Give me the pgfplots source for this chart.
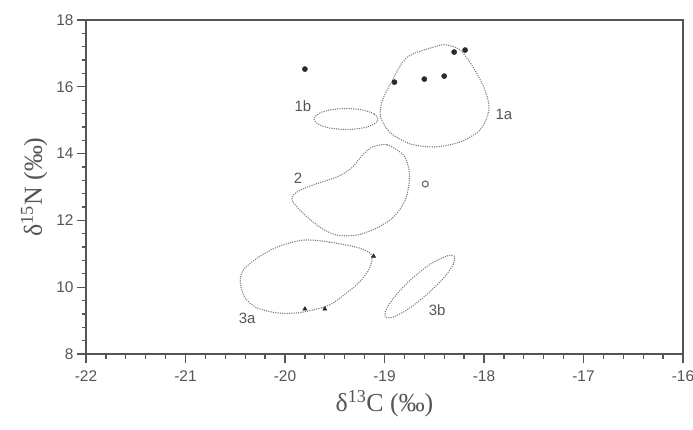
\documentclass[border=0pt]{standalone}
\usepackage{fontspec}
\setmainfont{Liberation Serif}
\newfontfamily\sans{Liberation Sans}
\usepackage{pgfplots}
\pgfplotsset{compat=1.18}
\definecolor{axgray}{HTML}{555555}
\definecolor{txtgray}{HTML}{555555}
\definecolor{dotgray}{HTML}{7A7A7A}
\definecolor{ptcol}{HTML}{2A2A2A}
\tikzset{lab/.style={font=\sans\fontsize{15}{15}\selectfont, text=txtgray}}
\begin{document}
\begin{tikzpicture}
\begin{axis}[
  scale only axis,
  width=597bp, height=334bp,
  xmin=-22, xmax=-16, ymin=8, ymax=18,
  xtick={-22,-21,...,-16}, ytick={8,10,...,18},
  minor tick num=4,
  tick align=outside,
  xtick pos=bottom, ytick pos=left,
  major tick length=9bp, minor tick length=4.5bp,
  axis line style={axgray, line width=1.8bp},
  every tick/.style={axgray, line width=1.3bp},
  /pgf/number format/assume math mode=true,
  ticklabel style={font=\sans\fontsize{15.5}{15.5}\selectfont, text=txtgray},
  xticklabel style={yshift=-4bp},
  xlabel={\fontsize{26}{26}\selectfont δ\textsuperscript{13}C (‰)},
  ylabel={\fontsize{26}{26}\selectfont δ\textsuperscript{15}N (‰)},
  xlabel style={text=txtgray, yshift=-2bp},
  ylabel style={text=txtgray, yshift=2bp},
  clip=false,
]
\coordinate (sw) at (rel axis cs:0,0);
\coordinate (ne) at (rel axis cs:1,1);
% contours
\pgfplotsset{cont/.style={smooth cycle, dotgray, line width=1.5bp, dash pattern=on 0bp off 2.3bp, line cap=round, mark=none}}
% 1a
\addplot[cont] coordinates {
(-18.47,17.22) (-18.77,16.89) (-18.92,16.20) (-19.02,15.60) (-19.04,15.10)
(-18.94,14.62) (-18.74,14.29) (-18.49,14.20) (-18.24,14.35) (-18.04,14.71)
(-17.95,15.31) (-17.99,15.90) (-18.11,16.59) (-18.24,17.10) (-18.37,17.25)};
% 1b
\addplot[cont] coordinates {
(-19.065,15.036) (-19.108,15.193) (-19.226,15.308) (-19.387,15.350) (-19.548,15.308)
(-19.665,15.193) (-19.709,15.036) (-19.665,14.879) (-19.548,14.763) (-19.387,14.722)
(-19.226,14.763) (-19.108,14.879)};
% 2
\addplot[cont] coordinates {
(-19.12,14.20) (-18.97,14.26) (-18.81,13.96) (-18.76,13.60) (-18.75,13.21)
(-18.79,12.61) (-18.91,12.10) (-19.08,11.77) (-19.28,11.56) (-19.48,11.56)
(-19.65,11.80) (-19.82,12.22) (-19.93,12.61) (-19.88,12.85) (-19.72,13.06)
(-19.48,13.30) (-19.33,13.57) (-19.22,13.96)};
% 3a
\addplot[cont] coordinates {
(-19.82,11.41) (-19.55,11.35) (-19.25,11.17) (-19.13,10.96) (-19.15,10.57)
(-19.25,10.16) (-19.38,9.83) (-19.55,9.47) (-19.72,9.32) (-19.88,9.23)
(-20.08,9.23) (-20.28,9.38) (-20.40,9.68) (-20.45,10.13) (-20.42,10.51)
(-20.28,10.87) (-20.08,11.20)};
% 3b
\addplot[cont] coordinates {
(-18.30,10.93) (-18.31,10.68) (-18.41,10.26) (-18.58,9.77) (-18.76,9.35)
(-18.91,9.11) (-18.99,9.11) (-18.98,9.36) (-18.88,9.78) (-18.72,10.27)
(-18.54,10.69) (-18.38,10.93)};
% points
\addplot[only marks, mark=*, mark size=2.6bp, ptcol] coordinates {
(-19.80,16.53) (-18.30,17.04) (-18.19,17.10) (-18.90,16.14) (-18.60,16.23) (-18.40,16.32)};
\addplot[only marks, mark=o, mark size=3bp, ptcol!70, line width=1.1bp] coordinates {(-18.59,13.09)};
\addplot[only marks, mark=triangle*, mark size=2.4bp, ptcol] coordinates {
(-19.80,9.35) (-19.60,9.35) (-19.11,10.93)};
% labels
\node[lab] at (axis cs:-17.80,15.16) {1a};
\node[lab] at (axis cs:-19.82,15.43) {1b};
\node[lab] at (axis cs:-19.87,13.27) {2};
\node[lab] at (axis cs:-20.38,9.08) {3a};
\node[lab] at (axis cs:-18.47,9.32) {3b};
\end{axis}
\pgfresetboundingbox
\path[use as bounding box] ([shift={(-86bp,-75bp)}]sw) rectangle ([shift={(10bp,20bp)}]ne);
\end{tikzpicture}
\end{document}
